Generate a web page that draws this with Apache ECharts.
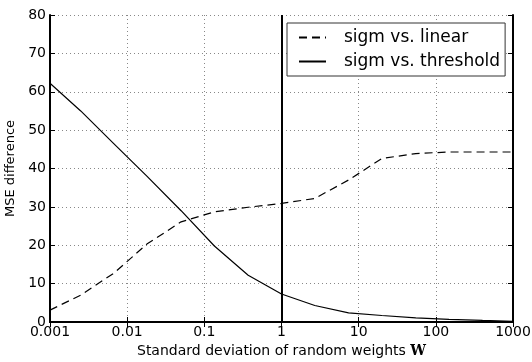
<!DOCTYPE html>
<html>
<head>
<meta charset="utf-8">
<script src="https://cdn.jsdelivr.net/npm/echarts@6/dist/echarts.min.js"></script>
<style>
  html, body { margin: 0; padding: 0; background: #fff; }
  #chart { width: 532px; height: 362px; }
</style>
</head>
<body>
<div id="chart"></div>
<script>
// x positions (std of random weights)
var sigmaValues = [0.001, 0.0025, 0.0067, 0.018, 0.05, 0.135, 0.37, 1, 2.7, 7.4, 20, 55, 148, 403, 1000]
// MSE difference, sigm vs. linear (dashed)
var linearDiff = [3.1, 7.0, 12.7, 20.3, 26.1, 28.7, 29.9, 30.9, 32.2, 37.0, 42.6, 43.9, 44.3, 44.3, 44.3]
// MSE difference, sigm vs. threshold (solid)
var thresholdDiff = [62.2, 55.0, 46.5, 38.0, 29.0, 19.8, 12.2, 7.3, 4.3, 2.4, 1.7, 1.1, 0.7, 0.4, 0.2]
var xTickLabels = ['0.001', '0.01', '0.1', '1', '10', '100', '1000']
var yTickLabels = ['0', '10', '20', '30', '40', '50', '60', '70', '80']
var markerX = 1

function pairs (xs, ys) {
  return xs.map(function (x, i) { return [x, ys[i]] })
}

var chart = echarts.init(document.getElementById('chart'))
var font = 'DejaVu Sans'
var gridLine = { show: true, lineStyle: { color: '#888', type: [1, 3], width: 1 } }
var frame = { show: true, lineStyle: { color: '#000', width: 2 } }
var ticks = { show: true, inside: true, length: 5, lineStyle: { color: '#000' } }

var option = {
  animation: false,
  textStyle: { fontFamily: font, color: '#000' },
  grid: { left: 50, right: 19, top: 15, bottom: 40, outerBoundsMode: 'none', containLabel: false },
  legend: {
    orient: 'vertical',
    left: 287,
    top: 23,
    padding: [6, 5, 6, 11],
    itemWidth: 27,
    itemHeight: 14,
    itemGap: 7,
    borderColor: '#333',
    borderWidth: 1,
    backgroundColor: '#fff',
    itemStyle: { opacity: 0 },
    textStyle: { fontSize: 17, lineHeight: 17, fontFamily: font, color: '#000', padding: [0, 0, 0, 13] },
    data: ['sigm vs. linear', 'sigm vs. threshold']
  },
  xAxis: [
    {
      type: 'log',
      logBase: 10,
      min: 0.001,
      max: 1000,
      name: 'Standard deviation of random weights {w|W}',
      nameLocation: 'middle',
      nameGap: 19,
      nameTextStyle: {
        fontSize: 14,
        fontFamily: font,
        color: '#000',
        rich: { w: { fontFamily: 'DejaVu Serif', fontWeight: 'bold', fontSize: 14 } }
      },
      axisLine: frame,
      axisTick: ticks,
      axisLabel: {
        fontSize: 14,
        margin: 3,
        color: '#000',
        formatter: function (v) { return xTickLabels[Math.round(Math.log10(v)) + 3] }
      },
      splitLine: gridLine,
      minorTick: { show: false }
    },
    {
      type: 'log',
      logBase: 10,
      min: 0.001,
      max: 1000,
      position: 'top',
      axisLine: frame,
      axisTick: ticks,
      axisLabel: { show: false },
      splitLine: { show: false }
    }
  ],
  yAxis: [
    {
      type: 'value',
      min: 0,
      max: 80,
      interval: 10,
      name: 'MSE difference',
      nameLocation: 'middle',
      nameGap: 27,
      nameTextStyle: { fontSize: 13, fontFamily: font, color: '#000' },
      axisLine: frame,
      axisTick: ticks,
      axisLabel: {
        fontSize: 14,
        margin: 4,
        color: '#000',
        formatter: function (v) { return yTickLabels[Math.round(v / 10)] }
      },
      splitLine: gridLine
    },
    {
      type: 'value',
      min: 0,
      max: 80,
      interval: 10,
      position: 'right',
      axisLine: frame,
      axisTick: ticks,
      axisLabel: { show: false },
      splitLine: { show: false }
    }
  ],
  series: [
    {
      name: 'sigm vs. linear',
      type: 'line',
      data: pairs(sigmaValues, linearDiff),
      symbol: 'none',
      lineStyle: { color: '#000', width: 1.2, type: [8, 5] },
      itemStyle: { color: '#000' }
    },
    {
      name: 'sigm vs. threshold',
      type: 'line',
      data: pairs(sigmaValues, thresholdDiff),
      symbol: 'none',
      lineStyle: { color: '#000', width: 1.2 },
      itemStyle: { color: '#000' },
      markLine: {
        silent: true,
        symbol: 'none',
        label: { show: false },
        lineStyle: { color: '#000', width: 2, type: 'solid' },
        data: [{ xAxis: markerX }]
      }
    }
  ]
}

chart.setOption(option)
</script>
</body>
</html>
